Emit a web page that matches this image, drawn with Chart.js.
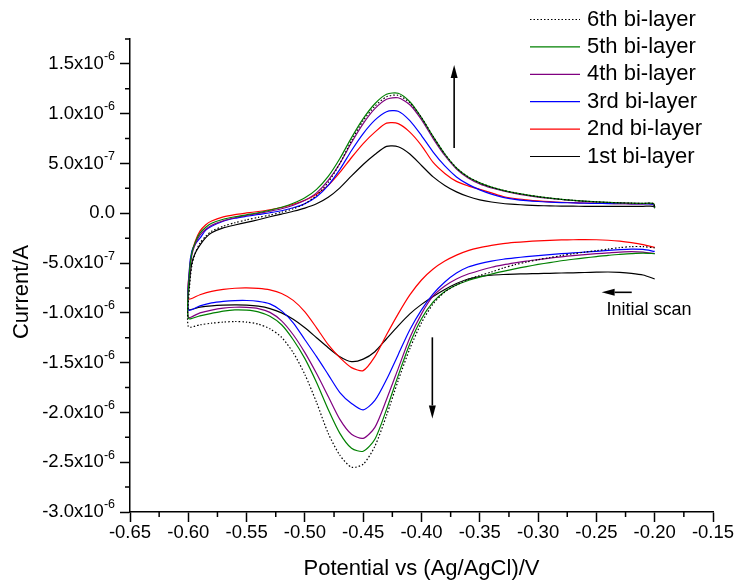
<!DOCTYPE html>
<html>
<head>
<meta charset="utf-8">
<script src="https://cdn.jsdelivr.net/npm/chart.js@4.4.0/dist/chart.umd.min.js"></script>
<style>
  html, body { margin: 0; padding: 0; background: #fff; }
</style>
</head>
<body>
<canvas id="cv" width="737" height="585"></canvas>
<script>
const FONT = "'Liberation Sans', Arial, sans-serif";

// potential (V) on the cathodic sweep, from -0.20 down to -0.60
const potentialDown = [-0.20, -0.21, -0.22, -0.23, -0.24, -0.25, -0.26, -0.27, -0.28, -0.29, -0.30,
  -0.31, -0.32, -0.33, -0.34, -0.35, -0.36, -0.37, -0.38, -0.39, -0.40, -0.41, -0.42, -0.43, -0.44,
  -0.45, -0.46, -0.47, -0.48, -0.49, -0.50, -0.51, -0.52, -0.53, -0.54, -0.55, -0.56, -0.57, -0.58,
  -0.59, -0.60];

// potential (V) on the anodic sweep, back from -0.60 to -0.20
const potentialUp = [-0.599, -0.597, -0.594, -0.590, -0.585, -0.58, -0.57, -0.56, -0.55, -0.54, -0.53,
  -0.52, -0.51, -0.50, -0.49, -0.48, -0.47, -0.46, -0.45, -0.44, -0.43, -0.42, -0.41, -0.40, -0.39,
  -0.38, -0.37, -0.36, -0.35, -0.34, -0.33, -0.32, -0.31, -0.30, -0.29, -0.28, -0.27, -0.26, -0.25,
  -0.24, -0.23, -0.22, -0.21, -0.201, -0.200];

// current in units of 1e-6 A
const down6 = [-0.348, -0.335, -0.335, -0.345, -0.36, -0.375, -0.39, -0.407, -0.425, -0.445, -0.466,
  -0.49, -0.517, -0.55, -0.59, -0.625, -0.665, -0.72, -0.79, -0.91, -1.10, -1.36, -1.68, -2.03, -2.34,
  -2.52, -2.55, -2.43, -2.21, -1.90, -1.62, -1.40, -1.245, -1.16, -1.113, -1.093, -1.087, -1.093,
  -1.104, -1.12, -1.138];
const up6 = [-0.75, -0.53, -0.40, -0.30, -0.23, -0.18, -0.13, -0.095, -0.066, -0.041, -0.018, 0.01,
  0.045, 0.095, 0.18, 0.31, 0.50, 0.73, 0.93, 1.075, 1.17, 1.185, 1.11, 0.96, 0.77, 0.595, 0.455,
  0.365, 0.305, 0.262, 0.23, 0.205, 0.185, 0.167, 0.152, 0.14, 0.13, 0.121, 0.115, 0.109, 0.105,
  0.101, 0.099, 0.098, 0.06];

const down5 = [-0.406, -0.40, -0.405, -0.413, -0.422, -0.435, -0.448, -0.462, -0.477, -0.495, -0.514,
  -0.535, -0.558, -0.583, -0.61, -0.642, -0.675, -0.72, -0.785, -0.89, -1.06, -1.31, -1.63, -1.97,
  -2.27, -2.39, -2.36, -2.21, -1.97, -1.70, -1.46, -1.27, -1.12, -1.035, -0.99, -0.973, -0.97, -0.982,
  -1.005, -1.03, -1.053];
const up5 = [-0.60, -0.40, -0.29, -0.20, -0.14, -0.10, -0.06, -0.035, -0.015, 0.005, 0.03, 0.06, 0.10,
  0.155, 0.24, 0.37, 0.55, 0.76, 0.95, 1.10, 1.195, 1.205, 1.12, 0.96, 0.77, 0.595, 0.455, 0.365,
  0.305, 0.262, 0.23, 0.205, 0.185, 0.167, 0.152, 0.14, 0.13, 0.121, 0.115, 0.109, 0.105, 0.101,
  0.099, 0.098, 0.055];

const down4 = [-0.406, -0.39, -0.385, -0.39, -0.398, -0.406, -0.415, -0.425, -0.437, -0.45, -0.465,
  -0.48, -0.498, -0.518, -0.542, -0.575, -0.61, -0.66, -0.73, -0.83, -1.01, -1.25, -1.56, -1.87,
  -2.15, -2.26, -2.22, -2.07, -1.84, -1.61, -1.40, -1.22, -1.08, -0.995, -0.957, -0.945, -0.944,
  -0.953, -0.972, -1.00, -1.043];
const up4 = [-0.62, -0.42, -0.31, -0.22, -0.16, -0.12, -0.075, -0.045, -0.022, -0.002, 0.02, 0.045,
  0.08, 0.13, 0.205, 0.33, 0.50, 0.71, 0.90, 1.05, 1.145, 1.16, 1.09, 0.94, 0.75, 0.58, 0.445, 0.355,
  0.295, 0.255, 0.225, 0.20, 0.18, 0.163, 0.15, 0.138, 0.128, 0.12, 0.113, 0.108, 0.104, 0.10,
  0.098, 0.095, 0.055];

const down3 = [-0.383, -0.363, -0.36, -0.365, -0.373, -0.382, -0.39, -0.398, -0.406, -0.415, -0.425,
  -0.436, -0.448, -0.462, -0.48, -0.505, -0.54, -0.60, -0.69, -0.81, -0.97, -1.17, -1.42, -1.67,
  -1.88, -1.975, -1.91, -1.80, -1.62, -1.44, -1.27, -1.10, -0.98, -0.91, -0.885, -0.876, -0.877,
  -0.885, -0.90, -0.93, -0.97];
const up3 = [-0.55, -0.38, -0.31, -0.25, -0.17, -0.13, -0.08, -0.05, -0.03, -0.012, 0.005, 0.025,
  0.055, 0.097, 0.165, 0.28, 0.44, 0.63, 0.80, 0.935, 1.02, 1.025, 0.93, 0.78, 0.615, 0.475, 0.365,
  0.29, 0.235, 0.192, 0.16, 0.14, 0.127, 0.118, 0.112, 0.107, 0.104, 0.101, 0.099, 0.097, 0.096,
  0.095, 0.093, 0.09, 0.06];

const down2 = [-0.342, -0.315, -0.295, -0.28, -0.271, -0.266, -0.265, -0.266, -0.268, -0.272, -0.277,
  -0.284, -0.293, -0.305, -0.323, -0.345, -0.375, -0.42, -0.48, -0.56, -0.67, -0.82, -1.01, -1.22,
  -1.44, -1.58, -1.55, -1.45, -1.32, -1.15, -0.99, -0.875, -0.805, -0.77, -0.755, -0.75, -0.753,
  -0.765, -0.785, -0.818, -0.859];
const up2 = [-0.57, -0.40, -0.28, -0.18, -0.115, -0.078, -0.037, -0.013, 0.003, 0.018, 0.035, 0.058,
  0.09, 0.13, 0.19, 0.28, 0.41, 0.56, 0.70, 0.815, 0.905, 0.90, 0.815, 0.68, 0.51, 0.40, 0.32, 0.275,
  0.24, 0.205, 0.168, 0.148, 0.135, 0.124, 0.116, 0.11, 0.106, 0.103, 0.1, 0.098, 0.096, 0.095,
  0.095, 0.095, 0.06];

const down1 = [-0.66, -0.62, -0.603, -0.594, -0.59, -0.592, -0.595, -0.598, -0.60, -0.603, -0.606,
  -0.608, -0.611, -0.615, -0.622, -0.635, -0.66, -0.705, -0.765, -0.835, -0.915, -1.01, -1.13, -1.26,
  -1.39, -1.465, -1.49, -1.44, -1.35, -1.25, -1.15, -1.065, -1.00, -0.957, -0.933, -0.922, -0.92,
  -0.923, -0.93, -0.943, -0.963];
const up1 = [-0.70, -0.50, -0.40, -0.32, -0.245, -0.195, -0.147, -0.118, -0.092, -0.065, -0.035,
  -0.008, 0.02, 0.052, 0.095, 0.16, 0.255, 0.375, 0.49, 0.59, 0.672, 0.668, 0.595, 0.48, 0.365,
  0.28, 0.215, 0.168, 0.135, 0.113, 0.098, 0.089, 0.082, 0.077, 0.074, 0.072, 0.071, 0.07, 0.07,
  0.07, 0.07, 0.07, 0.07, 0.07, 0.05];

const seriesLabels = ['6th bi-layer', '5th bi-layer', '4th bi-layer', '3rd bi-layer', '2nd bi-layer', '1st bi-layer'];
const seriesColors = ['#000000', '#008000', '#800080', '#0000ff', '#ff0000', '#000000'];
const cathodic = [down6, down5, down4, down3, down2, down1];
const anodic = [up6, up5, up4, up3, up2, up1];

// annotation arrows [x1, y1, x2, y2] in data units, and the scan note
const arrowSpecs = [
  [-0.372, 0.655, -0.372, 1.49],
  [-0.3907, -1.246, -0.3907, -2.06],
  [-0.2197, -0.794, -0.2455, -0.794]
];
const noteText = 'Initial scan';
const notePos = [-0.2414, -0.971];

function loop(down, up) {
  return potentialDown.map((v, i) => ({ x: v, y: down[i] }))
    .concat(potentialUp.map((v, i) => ({ x: v, y: up[i] })));
}

const datasets = seriesLabels.map((label, i) => ({
  label,
  data: loop(cathodic[i], anodic[i]),
  borderColor: seriesColors[i],
  borderDash: i === 0 ? [1.5, 2] : [],
  borderWidth: 1.2,
  showLine: true,
  pointRadius: 0,
  tension: 0.25
}));

function sciLabel(v) {
  if (Math.abs(v) < 1e-9) return ['0.0', ''];
  const exp = Math.abs(v) >= 0.999 ? -6 : -7;
  const m = exp === -6 ? v : v * 10;
  return [m.toFixed(1) + 'x10', String(exp)];
}

const decor = {
  id: 'decor',
  afterDraw(chart) {
    const { ctx, chartArea: area, scales: { x, y } } = chart;
    ctx.save();
    ctx.strokeStyle = '#000';
    ctx.fillStyle = '#000';
    ctx.lineWidth = 1.5;

    // minor ticks
    ctx.beginPath();
    for (let k = 0; k < 10; k++) {
      const px = x.getPixelForValue(-0.625 + k * 0.05);
      ctx.moveTo(px, area.bottom);
      ctx.lineTo(px, area.bottom + 5);
    }
    for (let k = 0; k < 10; k++) {
      const py = y.getPixelForValue(-2.75 + k * 0.5);
      ctx.moveTo(area.left - 5, py);
      ctx.lineTo(area.left, py);
    }
    ctx.stroke();

    // y tick labels with superscript exponent
    const right = area.left - 15;
    ctx.textBaseline = 'middle';
    ctx.textAlign = 'right';
    y.ticks.forEach(t => {
      const py = y.getPixelForValue(t.value);
      const [main, exp] = sciLabel(t.value);
      ctx.font = `12.5px ${FONT}`;
      const ew = exp ? ctx.measureText(exp).width : 0;
      if (exp) ctx.fillText(exp, right, py - 7);
      ctx.font = `18.5px ${FONT}`;
      ctx.fillText(main, right - ew, py);
    });

    // y axis title
    ctx.save();
    ctx.translate(22, 292);
    ctx.rotate(-Math.PI / 2);
    ctx.textAlign = 'center';
    ctx.font = `22px ${FONT}`;
    ctx.fillText('Current/A', 0, 0);
    ctx.restore();

    // arrows
    arrowSpecs.forEach(([x1, y1, x2, y2]) => {
      const ax = x.getPixelForValue(x1), ay = y.getPixelForValue(y1);
      const bx = x.getPixelForValue(x2), by = y.getPixelForValue(y2);
      const ang = Math.atan2(by - ay, bx - ax);
      const c = Math.cos(ang), s = Math.sin(ang);
      const len = 13, half = 3.5;
      ctx.lineWidth = 1.6;
      ctx.beginPath();
      ctx.moveTo(ax, ay);
      ctx.lineTo(bx - c * len, by - s * len);
      ctx.stroke();
      ctx.beginPath();
      ctx.moveTo(bx, by);
      ctx.lineTo(bx - c * len - s * half, by - s * len + c * half);
      ctx.lineTo(bx - c * len + s * half, by - s * len - c * half);
      ctx.closePath();
      ctx.fill();
    });

    // scan note
    ctx.textAlign = 'left';
    ctx.font = `18px ${FONT}`;
    ctx.fillText(noteText, x.getPixelForValue(notePos[0]), y.getPixelForValue(notePos[1]));

    // legend
    ctx.font = `22px ${FONT}`;
    chart.data.datasets.forEach((ds, i) => {
      const yy = 19.5 + i * 27.4;
      ctx.beginPath();
      ctx.setLineDash(ds.borderDash);
      ctx.strokeStyle = ds.borderColor;
      ctx.lineWidth = 1.2;
      ctx.moveTo(530, yy);
      ctx.lineTo(580, yy);
      ctx.stroke();
      ctx.setLineDash([]);
      ctx.fillText(ds.label, 587, yy);
    });
    ctx.restore();
  }
};

new Chart(document.getElementById('cv'), {
  type: 'scatter',
  data: { datasets },
  options: {
    responsive: false,
    animation: false,
    devicePixelRatio: 1,
    layout: { padding: { top: 39, right: 24, left: 0, bottom: 0 } },
    plugins: { legend: { display: false }, tooltip: { enabled: false } },
    scales: {
      x: {
        type: 'linear',
        min: -0.65,
        max: -0.15,
        afterFit: s => { s.height = 73; },
        border: { color: '#000', width: 1.5 },
        grid: { drawOnChartArea: false, tickLength: 10, tickColor: '#000', tickWidth: 1.5 },
        ticks: {
          stepSize: 0.05, autoSkip: false, maxRotation: 0, color: '#000', padding: 0,
          font: { family: FONT, size: 18.5 },
          callback: v => v.toFixed(2)
        },
        title: {
          display: true, text: 'Potential vs (Ag/AgCl)/V', color: '#000',
          font: { family: FONT, size: 22 }, padding: { top: 0, bottom: 3 }
        }
      },
      y: {
        type: 'linear',
        min: -3,
        max: 1.75,
        afterFit: s => { s.width = 130; },
        border: { color: '#000', width: 1.5 },
        grid: { drawOnChartArea: false, tickLength: 10, tickColor: '#000', tickWidth: 1.5 },
        ticks: { stepSize: 0.5, includeBounds: false, callback: () => '' }
      }
    }
  },
  plugins: [decor]
});
</script>
</body>
</html>
